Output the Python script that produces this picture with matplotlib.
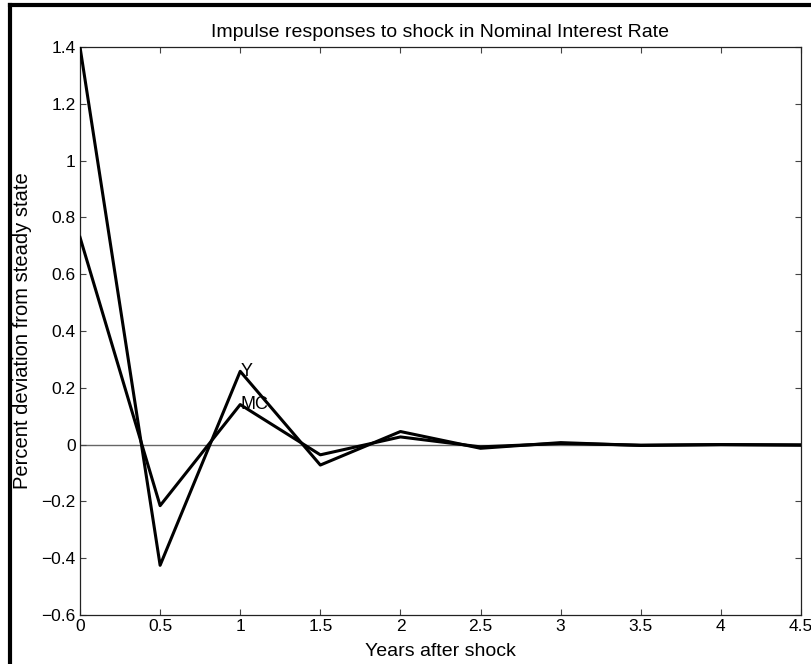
import matplotlib
matplotlib.use("Agg")
import matplotlib.pyplot as plt
from matplotlib.lines import Line2D
from matplotlib.ticker import FuncFormatter

# years after shock (semi-annual steps)
years = [0, 0.5, 1, 1.5, 2, 2.5, 3, 3.5, 4, 4.5]
# responses, percent deviation from steady state
y_resp = [1.40, -0.425, 0.258, -0.072, 0.046, -0.013, 0.007, -0.003, 0.0, -0.002]
mc_resp = [0.73, -0.215, 0.141, -0.036, 0.027, -0.008, 0.004, -0.002, 0.0, -0.001]

xticks = [0, 0.5, 1, 1.5, 2, 2.5, 3, 3.5, 4, 4.5]
yticks = [-0.6, -0.4, -0.2, 0, 0.2, 0.4, 0.6, 0.8, 1, 1.2, 1.4]

plt.rcParams['font.family'] = ['Liberation Sans', 'DejaVu Sans']
plt.rcParams['font.size'] = 12

fig = plt.figure(figsize=(8.12, 6.64), dpi=100)
ax = fig.add_axes([80 / 812, 49 / 664, 721 / 812, 568 / 664])

ax.axhline(0, color='#666666', lw=1.0, zorder=1)
ax.plot(years, y_resp, color='black', lw=2.2, zorder=3)
ax.plot(years, mc_resp, color='black', lw=2.2, zorder=3)

ax.text(years[2], y_resp[2], 'Y', ha='left', va='center', fontsize=13)
ax.text(years[2], mc_resp[2], 'MC', ha='left', va='center', fontsize=13)

ax.set_xlim(0, 4.5)
ax.set_ylim(-0.6, 1.4)
ax.set_xticks(xticks)
ax.set_yticks(yticks)
fmt = FuncFormatter(lambda v, p: ('%g' % round(v, 2)).replace('-', '\u2212'))
ax.xaxis.set_major_formatter(fmt)
ax.yaxis.set_major_formatter(fmt)
ax.tick_params(direction='in', length=4.5, width=0.8, color='#444444',
               top=True, right=True, pad=3, labelsize=12.5)
for s in ax.spines.values():
    s.set_linewidth(0.9)
    s.set_color('#222222')

ax.set_title('Impulse responses to shock in Nominal Interest Rate', fontsize=14, pad=7)
ax.set_xlabel('Years after shock', fontsize=14)
ax.set_ylabel('Percent deviation from steady state', fontsize=14.5)
ax.xaxis.set_label_coords(0.5, -0.050)
ax.yaxis.set_label_coords(-0.066, 0.5)

# thick frame lines at top and left of the image
fig.add_artist(Line2D([10.3 / 812, 1], [1 - 5 / 664, 1 - 5 / 664], color='black', lw=3.0,
                      transform=fig.transFigure))
fig.add_artist(Line2D([10.3 / 812, 10.3 / 812], [0, 1 - 5 / 664], color='black', lw=3.0,
                      transform=fig.transFigure))

fig.savefig('out.png', dpi=100)
